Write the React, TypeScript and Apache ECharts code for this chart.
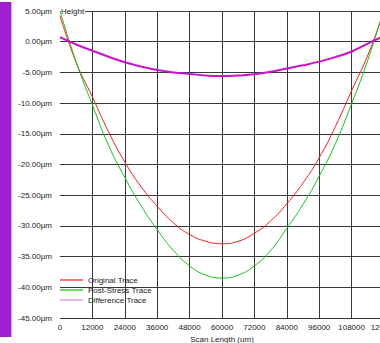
import React, { useEffect, useRef } from "react";
import * as echarts from "echarts";

const scanPositions = [0, 6000, 12000, 18000, 24000, 30000, 36000, 42000, 48000, 54000, 60000, 66000, 72000, 78000, 84000, 90000, 96000, 102000, 108000, 114000, 120000];
const originalTrace = [4.2, -3.4, -9.0, -14.7, -19.6, -23.6, -26.8, -29.5, -31.4, -32.5, -32.9, -32.5, -31.2, -29.2, -26.4, -23.0, -18.9, -13.8, -8.0, -2.2, 5.0];
const postStressTrace = [5.0, -3.3, -10.3, -16.9, -22.1, -26.7, -30.6, -34.0, -36.5, -38.0, -38.5, -38.0, -36.5, -34.0, -30.4, -26.5, -21.9, -16.6, -10.1, -3.0, 5.4];
const differenceTrace = [0.75, -0.45, -1.47, -2.45, -3.36, -4.05, -4.6, -5.0, -5.25, -5.5, -5.6, -5.5, -5.3, -4.9, -4.35, -3.85, -3.25, -2.5, -1.6, -0.3, 0.9];
const seriesNames = ["Original Trace", "Post-Stress Trace", "Difference Trace"];

const FONT = "'Liberation Sans', Arial, sans-serif";

export default function App() {
  const ref = useRef<HTMLDivElement>(null);
  useEffect(() => {
    if (!ref.current) return;
    const chart = echarts.init(ref.current, null, { renderer: "svg" });
    const pairs = (vals: number[]) => scanPositions.map((x, i) => [x, vals[i]]);
    chart.setOption({
      animation: false,
      backgroundColor: "#ffffff",
      textStyle: { fontFamily: FONT },
      grid: { left: 60, top: 11, right: -4, bottom: 25, outerBoundsMode: "none", containLabel: false },
      graphic: [
        { type: "rect", shape: { x: 0, y: 2, width: 11, height: 335 }, style: { fill: "#a01fd0" }, silent: true },
        { type: "rect", shape: { x: 11, y: 2, width: 1, height: 335 }, style: { fill: "#d9a6ec" }, silent: true },
      ],
      xAxis: {
        type: "value",
        min: 0,
        max: 120000,
        interval: 12000,
        name: "Scan Length (um)",
        nameLocation: "middle",
        nameGap: 15,
        nameTextStyle: { fontSize: 8, color: "#222", fontFamily: FONT },
        axisLine: { show: false },
        axisTick: { show: false },
        axisLabel: {
          fontSize: 8,
          color: "#222",
          margin: 5,
          fontFamily: FONT,
          hideOverlap: false,
          showMaxLabel: true,
          formatter: (v: number) => String(v),
        },
        splitLine: { show: true, showMinLine: false, lineStyle: { color: "#383838", width: 1 } },
      },
      yAxis: {
        type: "value",
        min: -45,
        max: 5,
        interval: 5,
        name: "Height",
        nameLocation: "end",
        nameGap: 0,
        nameTextStyle: {
          fontSize: 8,
          color: "#222",
          align: "left",
          verticalAlign: "middle",
          backgroundColor: "#ffffff",
          padding: [0, 1, 0, 1],
          fontFamily: FONT,
        },
        axisLine: { show: false },
        axisTick: { show: false },
        axisLabel: {
          fontSize: 8,
          color: "#222",
          margin: 8,
          fontFamily: FONT,
          formatter: (v: number) => v.toFixed(2) + "µm",
        },
        splitLine: { show: true, lineStyle: { color: "#383838", width: 1 } },
      },
      legend: {
        orient: "vertical",
        left: 60,
        top: 275,
        padding: 0,
        itemGap: 0,
        itemWidth: 23,
        itemHeight: 1.2,
        icon: "rect",
        textStyle: { fontSize: 8, color: "#222", lineHeight: 10, fontFamily: FONT },
        data: [
          { name: seriesNames[0] },
          { name: seriesNames[1] },
          { name: seriesNames[2], itemStyle: { color: "#e28ae2" } },
        ],
      },
      series: [
        {
          name: seriesNames[0],
          type: "line",
          data: pairs(originalTrace),
          smooth: true,
          symbol: "none",
          lineStyle: { color: "#ff1a1a", width: 1 },
          itemStyle: { color: "#ff1a1a" },
        },
        {
          name: seriesNames[1],
          type: "line",
          data: pairs(postStressTrace),
          smooth: true,
          symbol: "none",
          lineStyle: { color: "#11c411", width: 1 },
          itemStyle: { color: "#11c411" },
        },
        {
          name: seriesNames[2],
          type: "line",
          data: pairs(differenceTrace),
          smooth: true,
          symbol: "none",
          lineStyle: { color: "#cc10cc", width: 2 },
          itemStyle: { color: "#cc10cc" },
        },
      ],
    });
    return () => chart.dispose();
  }, []);
  return (
    <div
      ref={ref}
      style={{ position: "fixed", left: 0, top: 0, width: 380, height: 343, overflow: "hidden" }}
    />
  );
}
